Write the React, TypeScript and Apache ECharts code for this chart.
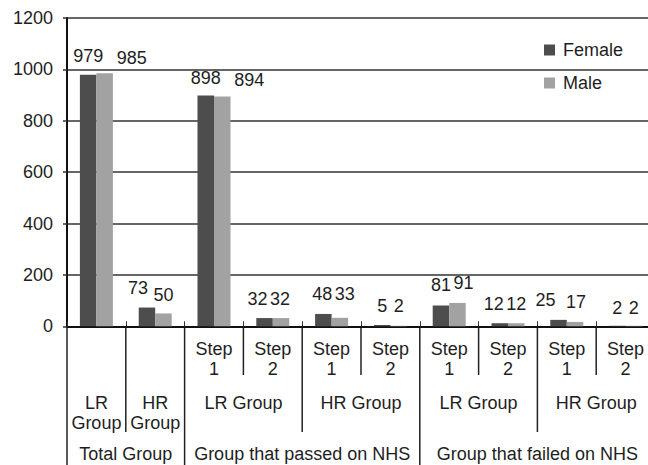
import React, { useEffect, useRef } from "react";
import * as echarts from "echarts";

const categories = [
  "Total-LR", "Total-HR",
  "Passed-LR-1", "Passed-LR-2", "Passed-HR-1", "Passed-HR-2",
  "Failed-LR-1", "Failed-LR-2", "Failed-HR-1", "Failed-HR-2",
];
const stepLabels = ["", "", "Step\n1", "Step\n2", "Step\n1", "Step\n2", "Step\n1", "Step\n2", "Step\n1", "Step\n2"];
const female = [979, 73, 898, 32, 48, 5, 81, 12, 25, 2];
const male = [985, 50, 894, 32, 33, 2, 91, 12, 17, 2];
const midGroups = [
  { label: "LR\nGroup", span: 1 },
  { label: "HR\nGroup", span: 1 },
  { label: "LR Group", span: 2 },
  { label: "HR Group", span: 2 },
  { label: "LR Group", span: 2 },
  { label: "HR Group", span: 2 },
];
const topGroups = [
  { label: "Total Group", span: 2 },
  { label: "Group that passed on NHS", span: 4 },
  { label: "Group that failed on NHS", span: 4 },
];
const yTicks = { min: 0, max: 1200, interval: 200 };

// label nudges (px) mimicking the hand-placed labels of the original
const femaleLabelNudge = [[0, -19], [-9, -20], [0, -18], [-7, -19], [-1, -20], [0, -19], [0, -20], [-6, -19], [-13, -20], [0, -18]];
const maleLabelNudge = [[27, -15], [0, -18], [27, -17], [-1, -19], [5, -24], [0, -20], [6, -20], [0, -19], [1, -20], [0, -18]];

const FONT = "'Liberation Sans', Arial, Helvetica, sans-serif";
const TXT = "#1e1e1e";
const FS = 18;

export default function App() {
  const ref = useRef<HTMLDivElement>(null);
  useEffect(() => {
    document.body.style.margin = "0";
    const chart = echarts.init(ref.current!, null, { renderer: "svg" });
    const mkData = (vals: number[], nudges: number[][]) =>
      vals.map((v, i) => ({
        value: v,
        label: { offset: nudges[i] },
      }));
    const labelBase = {
      show: true,
      position: "top",
      distance: 0,
      verticalAlign: "middle",
      fontSize: FS,
      fontFamily: FONT,
      color: TXT,
    };
    chart.setOption({
      animation: false,
      textStyle: { fontFamily: FONT },
      grid: { left: 67, top: 18, width: 588, height: 308.3, outerBoundsMode: "none", containLabel: false },
      legend: {
        orient: "vertical",
        left: 539,
        top: 36,
        itemWidth: 11,
        itemHeight: 11,
        itemGap: 15,
        icon: "rect",
        textStyle: { fontSize: FS, lineHeight: 18, fontFamily: FONT, color: TXT, padding: [0, 0, 0, 3] },
        data: ["Female", "Male"],
      },
      xAxis: {
        type: "category",
        data: categories,
        axisLine: { show: true, lineStyle: { color: "#111", width: 2 } },
        axisTick: { show: true, inside: true, length: 5, lineStyle: { color: "#333", width: 1 } },
        axisLabel: {
          formatter: (_v: string, i: number) => stepLabels[i],
          fontSize: FS,
          lineHeight: 20,
          margin: 13,
          color: TXT,
          fontFamily: FONT,
          interval: 0,
        },
      },
      yAxis: {
        type: "value",
        min: yTicks.min,
        max: yTicks.max,
        interval: yTicks.interval,
        axisLine: { show: true, lineStyle: { color: "#111", width: 2 } },
        axisTick: { show: true, length: 4, lineStyle: { color: "#333", width: 1.5 } },
        axisLabel: { fontSize: FS, color: TXT, fontFamily: FONT, margin: 14, formatter: (v: number) => String(v) },
        splitLine: { show: true, lineStyle: { color: "#333", width: 1.5 } },
      },
      series: [
        {
          name: "Female",
          type: "bar",
          data: mkData(female, femaleLabelNudge),
          barWidth: 16.5,
          barGap: "0%",
          itemStyle: { color: "#4d4d4d" },
          label: labelBase,
        },
        {
          name: "Male",
          type: "bar",
          data: mkData(male, maleLabelNudge),
          barWidth: 16.5,
          barGap: "0%",
          itemStyle: { color: "#a2a2a2" },
          label: labelBase,
        },
      ],
    });

    // build the multi-level axis decorations from the axis' own scale
    const c0 = chart.convertToPixel({ xAxisIndex: 0 }, 0) as number;
    const c1 = chart.convertToPixel({ xAxisIndex: 0 }, 1) as number;
    const band = c1 - c0;
    const bx = (k: number) => c0 - band / 2 + k * band;
    const y0 = chart.convertToPixel({ yAxisIndex: 0 }, 0) as number;
    const row1Bottom = 375;
    const row2Bottom = 432;
    const row3Bottom = 465;
    const lineStyle = { stroke: "#222", lineWidth: 1.5 };
    const elements: any[] = [];
    const vline = (x: number, y2: number) =>
      elements.push({ type: "line", shape: { x1: x, y1: y0, x2: x, y2 }, style: lineStyle, silent: true });
    // row 1 separators: between step 1 and step 2
    for (let k = 3; k < categories.length; k += 2) vline(bx(k), row1Bottom);
    // row 2 separators & labels
    let k = 0;
    midGroups.forEach((g) => {
      elements.push({
        type: "text",
        style: {
          text: g.label,
          x: (bx(k) + bx(k + g.span)) / 2,
          y: 393,
          align: "center",
          verticalAlign: "top",
          font: `${FS}px ${FONT}`,
          lineHeight: 20,
          fill: TXT,
        },
        silent: true,
      });
      k += g.span;
    });
    [1, 4, 8].forEach((b) => vline(bx(b), row2Bottom));
    // row 3
    k = 0;
    vline(bx(0), row3Bottom);
    topGroups.forEach((g) => {
      elements.push({
        type: "text",
        style: {
          text: g.label,
          x: (bx(k) + bx(k + g.span)) / 2,
          y: 454,
          align: "center",
          verticalAlign: "middle",
          font: `${FS}px ${FONT}`,
          fill: TXT,
        },
        silent: true,
      });
      k += g.span;
      vline(bx(k), row3Bottom);
    });
    chart.setOption({ graphic: { elements } });
    return () => chart.dispose();
  }, []);
  return <div ref={ref} style={{ width: 648, height: 465 }} />;
}
